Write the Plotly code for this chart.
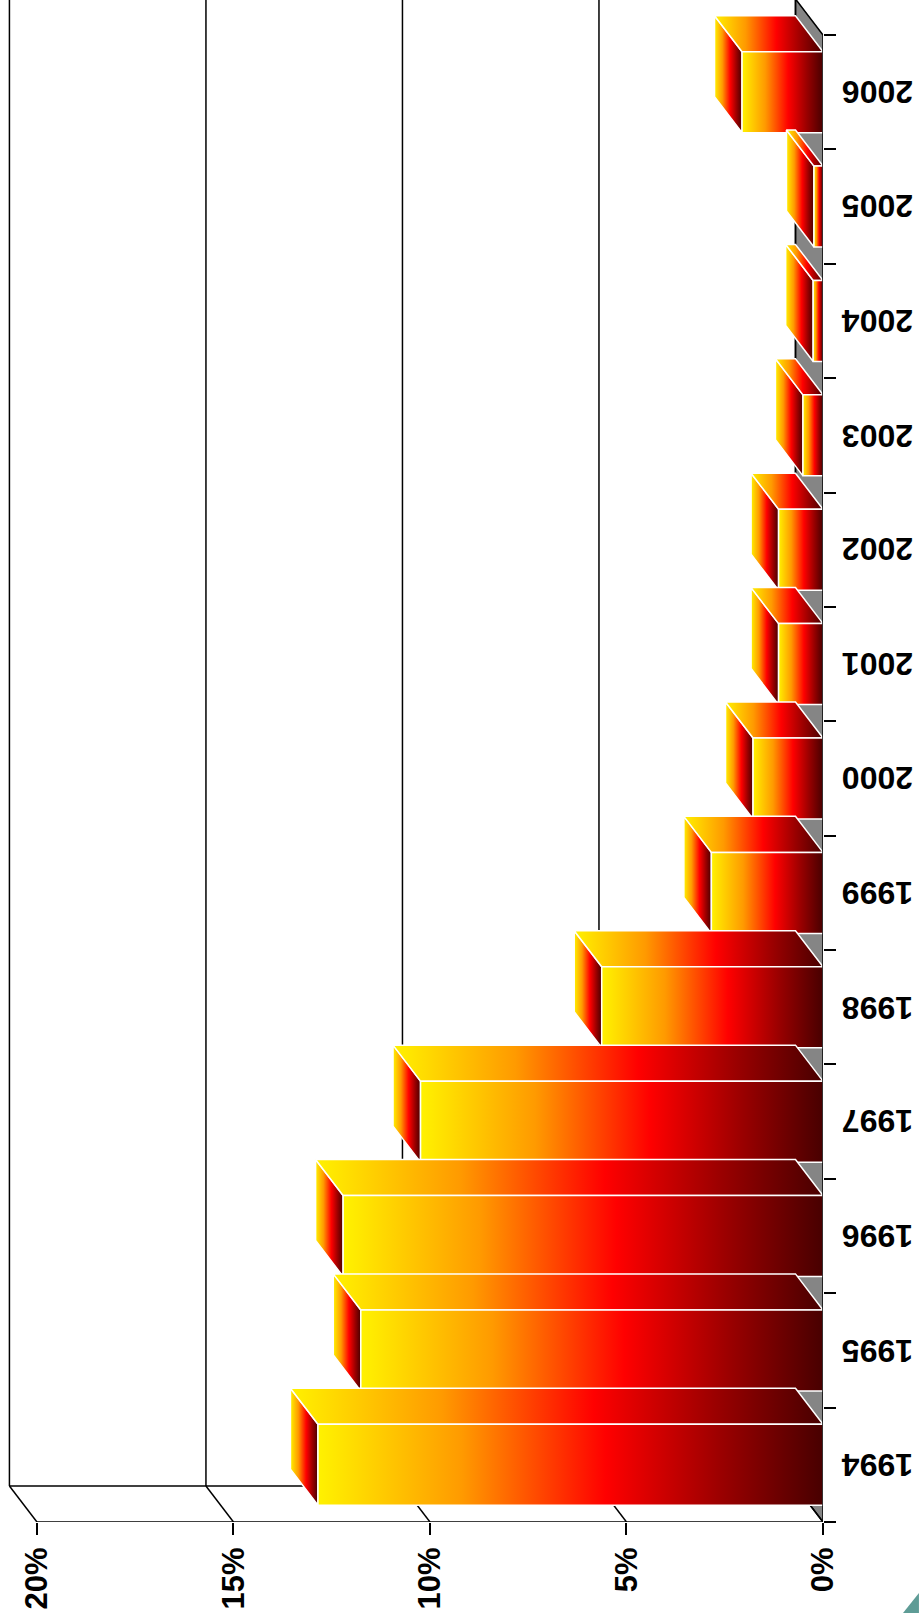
import plotly.graph_objects as go

# Annual rate by year (percent)
years = ["1994", "1995", "1996", "1997", "1998", "1999", "2000",
         "2001", "2002", "2003", "2004", "2005", "2006"]
rates = [12.85, 11.76, 12.21, 10.24, 5.63, 2.84, 1.78,
         1.13, 1.13, 0.51, 0.25, 0.23, 2.06]
pct_ticks = [0, 5, 10, 15, 20]
pct_labels = ["0%", "5%", "10%", "15%", "20%"]

# 3D extrusion in data units: depth pushes toward larger values and up the category axis
DX = 0.70
DY = 0.315
HALF = 0.354
X_MAX = 20.94
Y_LO, Y_HI = -0.5, 12.806
N = len(years)

# gradient runs left (bar end) to right (zero plane) on screen
HEAT = [[0.0, "#fff200"], [0.285, "#ff9a00"], [0.57, "#ff0000"],
        [0.8, "#9a0000"], [1.0, "#480000"]]

fig = go.Figure()


def poly(xs, ys, fill=None, line_color="white", width=1.5, gradient=True):
    kw = dict(x=xs + [xs[0]], y=ys + [ys[0]], mode="lines", fill="toself",
              line=dict(color=line_color, width=width),
              hoverinfo="skip", showlegend=False)
    if gradient:
        kw["fillgradient"] = dict(type="horizontal", colorscale=HEAT)
    else:
        kw["fillcolor"] = fill
    fig.add_trace(go.Scatter(**kw))


def seg(xs, ys, color="black", width=1.5):
    fig.add_trace(go.Scatter(x=xs, y=ys, mode="lines",
                             line=dict(color=color, width=width),
                             hoverinfo="skip", showlegend=False))


# floor strip along the zero plane
poly([0, DX, DX, 0], [-0.5, -0.5 + DY, N - 0.5 + DY, N - 0.5],
     fill="#858585", line_color="#858585", width=0.5, gradient=False)
seg([0, DX, DX, 0], [-0.5, -0.5 + DY, N - 0.5 + DY, N - 0.5])

# back wall gridlines and the side-wall diagonals
for v in pct_ticks:
    seg([v + DX, v + DX], [Y_HI + 1, -0.5 + DY])
    seg([v + DX, v], [-0.5 + DY, -0.5])
seg([DX, 20 + DX], [-0.5 + DY, -0.5 + DY])

# bars, painted from the back (top) to the front (bottom)
for i in reversed(range(N)):
    v = rates[i]
    lo, hi = i - HALF, i + HALF
    # end face
    poly([v, v, v + DX, v + DX], [lo, hi, hi + DY, lo + DY])
    # upper face
    poly([0, v, v + DX, DX], [hi, hi, hi + DY, hi + DY])
    # front face
    poly([0, v, v, 0], [lo, lo, hi, hi])

# front axis lines
seg([0, 20], [-0.5, -0.5])
seg([0, 0], [-0.5, N - 0.5])

# year labels, upside down, right of the category axis
annotations = [dict(text=y, x=1.0656, xref="paper", y=k, yref="y",
                    textangle=180, showarrow=False, xanchor="center",
                    yanchor="middle",
                    font=dict(size=32, weight="bold", color="black"))
               for k, y in enumerate(years)]

fig.update_layout(
    width=919, height=1613,
    margin=dict(l=0, r=96, t=0, b=91),
    paper_bgcolor="white", plot_bgcolor="white",
    font=dict(family="Liberation Sans, Arial, sans-serif", color="black"),
    xaxis=dict(range=[X_MAX, 0], tickvals=pct_ticks, ticktext=pct_labels,
               tickangle=-90, ticks="outside", ticklen=12, tickwidth=1.5,
               tickcolor="black", showgrid=False, zeroline=False,
               showline=False,
               tickfont=dict(size=31, weight="bold", color="black")),
    yaxis=dict(range=[Y_LO, Y_HI], side="right",
               tickvals=[k - 0.5 for k in range(N + 1)],
               showticklabels=False, ticks="outside", ticklen=12,
               tickwidth=1.5, tickcolor="black",
               showgrid=False, zeroline=False, showline=False),
    annotations=annotations,
    shapes=[dict(type="path", xref="paper", yref="paper",
                 path="M 1.0972 -0.0598 L 1.1166 -0.0466 L 1.1166 -0.0598 Z",
                 fillcolor="#5e9c96", line=dict(width=0))],
)

fig.write_html("out.html")
